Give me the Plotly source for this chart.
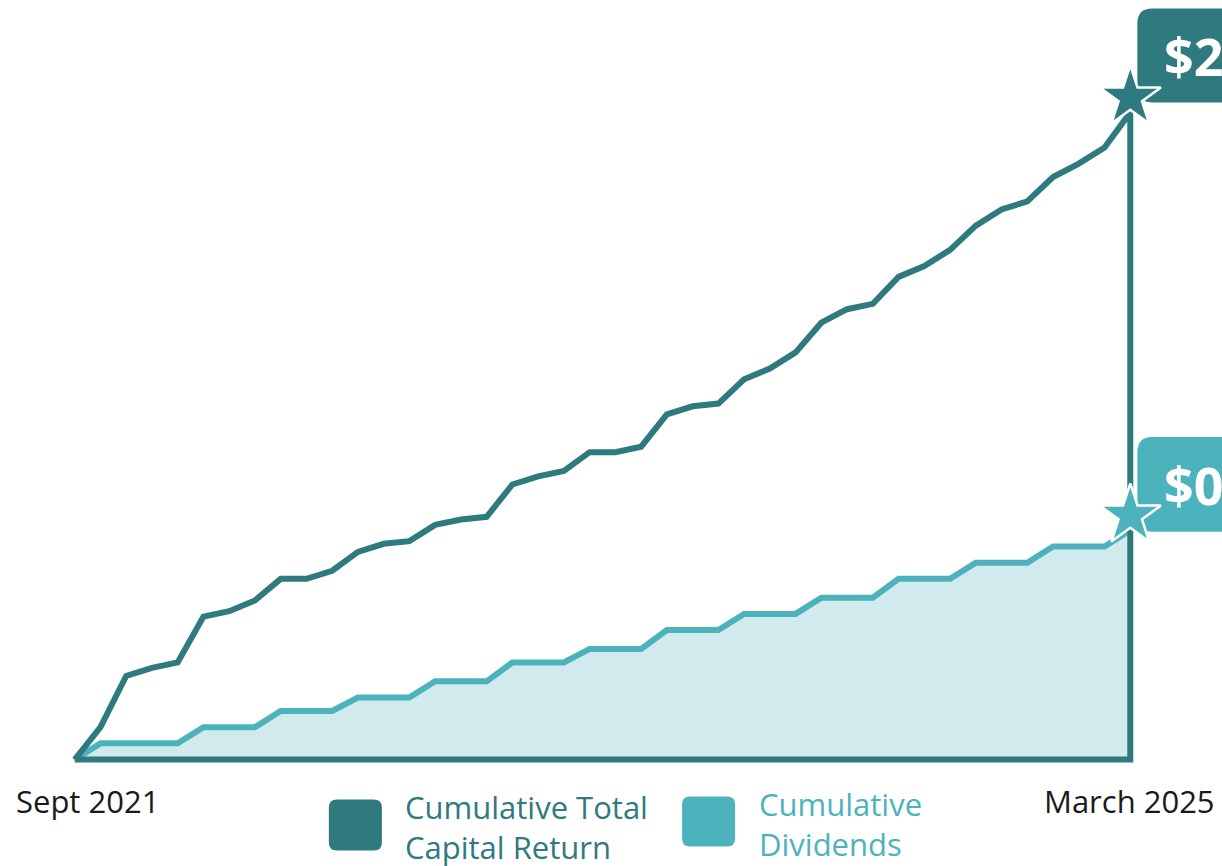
import plotly.graph_objects as go

# Monthly periods from Sept 2021 onward (index positions on the x axis)
period = list(range(42))

# Cumulative total capital return ($B)
total_return = [0.00, 0.12, 0.31, 0.34, 0.36, 0.53, 0.55, 0.59, 0.67, 0.67,
                0.70, 0.77, 0.80, 0.81, 0.87, 0.89, 0.90, 1.02, 1.05, 1.07,
                1.14, 1.14, 1.16, 1.28, 1.31, 1.32, 1.41, 1.45, 1.51, 1.62,
                1.67, 1.69, 1.79, 1.83, 1.89, 1.98, 2.04, 2.07, 2.16, 2.21,
                2.27, 2.40]

# Cumulative dividends ($B), stepping up each quarter
dividends = [0.00, 0.06, 0.06, 0.06, 0.06, 0.12, 0.12, 0.12, 0.18, 0.18,
             0.18, 0.23, 0.23, 0.23, 0.29, 0.29, 0.29, 0.36, 0.36, 0.36,
             0.41, 0.41, 0.41, 0.48, 0.48, 0.48, 0.54, 0.54, 0.54, 0.60,
             0.60, 0.60, 0.67, 0.67, 0.67, 0.73, 0.73, 0.73, 0.79, 0.79,
             0.79, 0.85]

end_labels = ["Sept 2021", "March 2025"]
series_names = ["Cumulative Total<br>Capital Return", "Cumulative<br>Dividends"]

DARK = "#2f7a7e"
TEAL = "#4cb3bd"
FILL = "#d1eaed"
FONT = "Open Sans"

X_RANGE = [-0.3, 41.3]
Y_RANGE = [-0.05, 2.75]
STAR_LIFT = 0.055

fig = go.Figure()

# Dividends: filled area under a stepped line
fig.add_trace(go.Scatter(
    x=period, y=dividends, mode="lines",
    line=dict(color=TEAL, width=6),
    fill="tozeroy", fillcolor=FILL,
    hoverinfo="skip", showlegend=False,
))

# Total capital return, closed down the right edge and along the baseline
fig.add_trace(go.Scatter(
    x=period + [period[-1], period[0]],
    y=total_return + [0, 0],
    mode="lines",
    line=dict(color=DARK, width=6),
    hoverinfo="skip", showlegend=False,
))

# Stars marking the latest values
fig.add_trace(go.Scatter(
    x=[period[-1], period[-1]],
    y=[total_return[-1] + STAR_LIFT, dividends[-1] + STAR_LIFT],
    mode="markers",
    marker=dict(symbol="star", size=46, color=[DARK, TEAL],
                line=dict(color="white", width=2.5)),
    cliponaxis=False, hoverinfo="skip", showlegend=False,
))


def rounded_box(x0, x1, y0, y1, rx, ry):
    """SVG path for a box with rounded corners (paper coordinates, y up)."""
    return (f"M {x0 + rx},{y1} L {x1 - rx},{y1} Q {x1},{y1} {x1},{y1 - ry} "
            f"L {x1},{y0 + ry} Q {x1},{y0} {x1 - rx},{y0} "
            f"L {x0 + rx},{y0} Q {x0},{y0} {x0},{y0 + ry} "
            f"L {x0},{y1 - ry} Q {x0},{y1} {x0 + rx},{y1} Z")


# Value call-outs on the right edge
callouts = [
    (f"${total_return[-1]:.2f}B", DARK, 0.8882, 1.0126),
    (f"${dividends[-1]:.2f}B", TEAL, 0.3194, 0.4451),
]
for text, color, yb, yt in callouts:
    fig.add_shape(type="path", xref="paper", yref="paper", layer="below",
                  path=rounded_box(0.9994, 1.25, yb, yt, 0.014, 0.02),
                  fillcolor=color, line=dict(width=0))
    fig.add_annotation(xref="paper", yref="paper", x=1.0227, y=(yb + yt) / 2,
                       xanchor="left", yanchor="middle", showarrow=False,
                       text=f"<b>{text}</b>",
                       font=dict(family=FONT, size=52, color="white"))

# Period labels at both ends of the baseline
for text, xp in zip(end_labels, [0.0194, 0.992]):
    fig.add_annotation(xref="paper", yref="paper", x=xp, y=-0.0377,
                       xanchor="center", yanchor="middle", showarrow=False,
                       text=text,
                       font=dict(family=FONT, size=31, color="#1a1a1a"))

# Legend: rounded swatches with coloured labels
legend_items = [
    (series_names[0], DARK, 0.2445, 0.2940, -0.1025, -0.0351, 0.3136, -0.0721),
    (series_names[1], TEAL, 0.5743, 0.6238, -0.0972, -0.0311, 0.6444, -0.0681),
]
for name, color, sx0, sx1, sy0, sy1, tx, ty in legend_items:
    fig.add_shape(type="path", xref="paper", yref="paper",
                  path=rounded_box(sx0, sx1, sy0, sy1, 0.0075, 0.0106),
                  fillcolor=color, line=dict(width=0))
    fig.add_annotation(xref="paper", yref="paper", x=tx, y=ty,
                       xanchor="left", yanchor="middle", align="left",
                       showarrow=False, text=name,
                       font=dict(family=FONT, size=31, color=color))

fig.update_layout(
    width=1222, height=866,
    margin=dict(l=67.28, r=84.32, t=17.5, b=92.5),
    paper_bgcolor="white", plot_bgcolor="rgba(0,0,0,0)",
    xaxis=dict(range=X_RANGE, visible=False, fixedrange=True),
    yaxis=dict(range=Y_RANGE, visible=False, fixedrange=True),
    showlegend=False,
)

fig.write_html("out.html")
